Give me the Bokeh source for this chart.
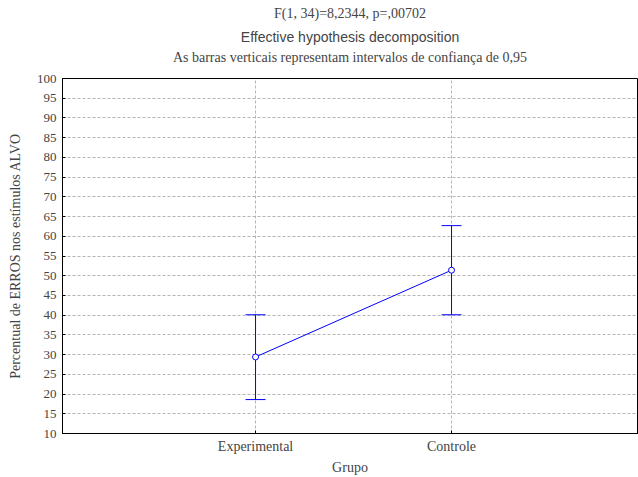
from bokeh.plotting import figure
from bokeh.models import ColumnDataSource, Title, FixedTicker, Range1d
from bokeh.embed import file_html
from bokeh.resources import INLINE

groups = ["Experimental", "Controle"]
means = [29.4, 51.4]
lower = [18.6, 40.1]
upper = [40.1, 62.7]
yticks = list(range(10, 101, 5))

xpos = [1, 2]
src = ColumnDataSource(dict(x=xpos, m=means, lo=lower, hi=upper))

SERIF = "Liberation Serif"
SANS = "Liberation Sans"
BLUE = "#0000ff"

p = figure(width=638, height=477, output_backend="svg", toolbar_location=None,
           x_range=Range1d(0.015, 2.949), y_range=Range1d(10, 100),
           min_border_left=62, min_border_right=1, min_border_top=78,
           min_border_bottom=43)
p.title = None

# spacer between the subtitle and the frame, then the three title lines
p.add_layout(Title(text=" ", text_font_size="1px", standoff=9), "above")
p.add_layout(Title(text="As barras verticais representam intervalos de confiança de 0,95",
                   align="center", text_font=SERIF, text_font_size="14px",
                   text_font_style="normal", standoff=3), "above")
p.add_layout(Title(text="Effective hypothesis decomposition", align="center",
                   text_font=SANS, text_font_size="14px", text_font_style="normal",
                   standoff=4), "above")
p.add_layout(Title(text="F(1, 34)=8,2344, p=,00702", align="center",
                   text_font=SERIF, text_font_size="14px", text_font_style="normal",
                   standoff=7), "above")

p.line(x="x", y="m", source=src, line_color=BLUE, line_width=1)
# confidence-interval bars: vertical segment plus horizontal caps
p.segment(x0="x", y0="lo", x1="x", y1="hi", source=src, line_color=BLUE, line_width=1)
p.scatter(x="x", y="lo", source=src, marker="dash", size=20, line_color=BLUE, line_width=1)
p.scatter(x="x", y="hi", source=src, marker="dash", size=20, line_color=BLUE, line_width=1)
p.scatter(x="x", y="m", source=src, size=6, marker="circle",
          fill_color="white", line_color=BLUE, line_width=1)

p.xaxis.ticker = FixedTicker(ticks=xpos)
p.xaxis.major_label_overrides = {xpos[i]: groups[i] for i in range(len(groups))}
p.yaxis.ticker = FixedTicker(ticks=yticks)

for ax in (p.xaxis, p.yaxis):
    ax.major_label_text_font = SERIF
    ax.axis_label_text_font = SERIF
    ax.axis_label_text_font_size = "14px"
    ax.axis_label_text_font_style = "normal"
    ax.axis_line_color = "black"
    ax.major_tick_in = 3
    ax.major_tick_out = 0
    ax.minor_tick_line_color = None
    ax.major_tick_line_color = "black"

p.xaxis.major_label_text_font_size = "14px"
p.yaxis.major_label_text_font_size = "13px"
p.xaxis.axis_label = "Grupo"
p.yaxis.axis_label = "Percentual de ERROS nos estímulos ALVO"
p.xaxis.major_label_standoff = 5
p.xaxis.axis_label_standoff = 3
p.yaxis.major_label_standoff = 6
p.yaxis.axis_label_standoff = 11

p.grid.grid_line_color = "#b4b4b4"
p.grid.grid_line_dash = "3 2"
p.grid.grid_line_width = 1
p.outline_line_color = "black"
p.background_fill_color = "white"
p.border_fill_color = "white"

open("out.html", "w").write(file_html(p, INLINE))
